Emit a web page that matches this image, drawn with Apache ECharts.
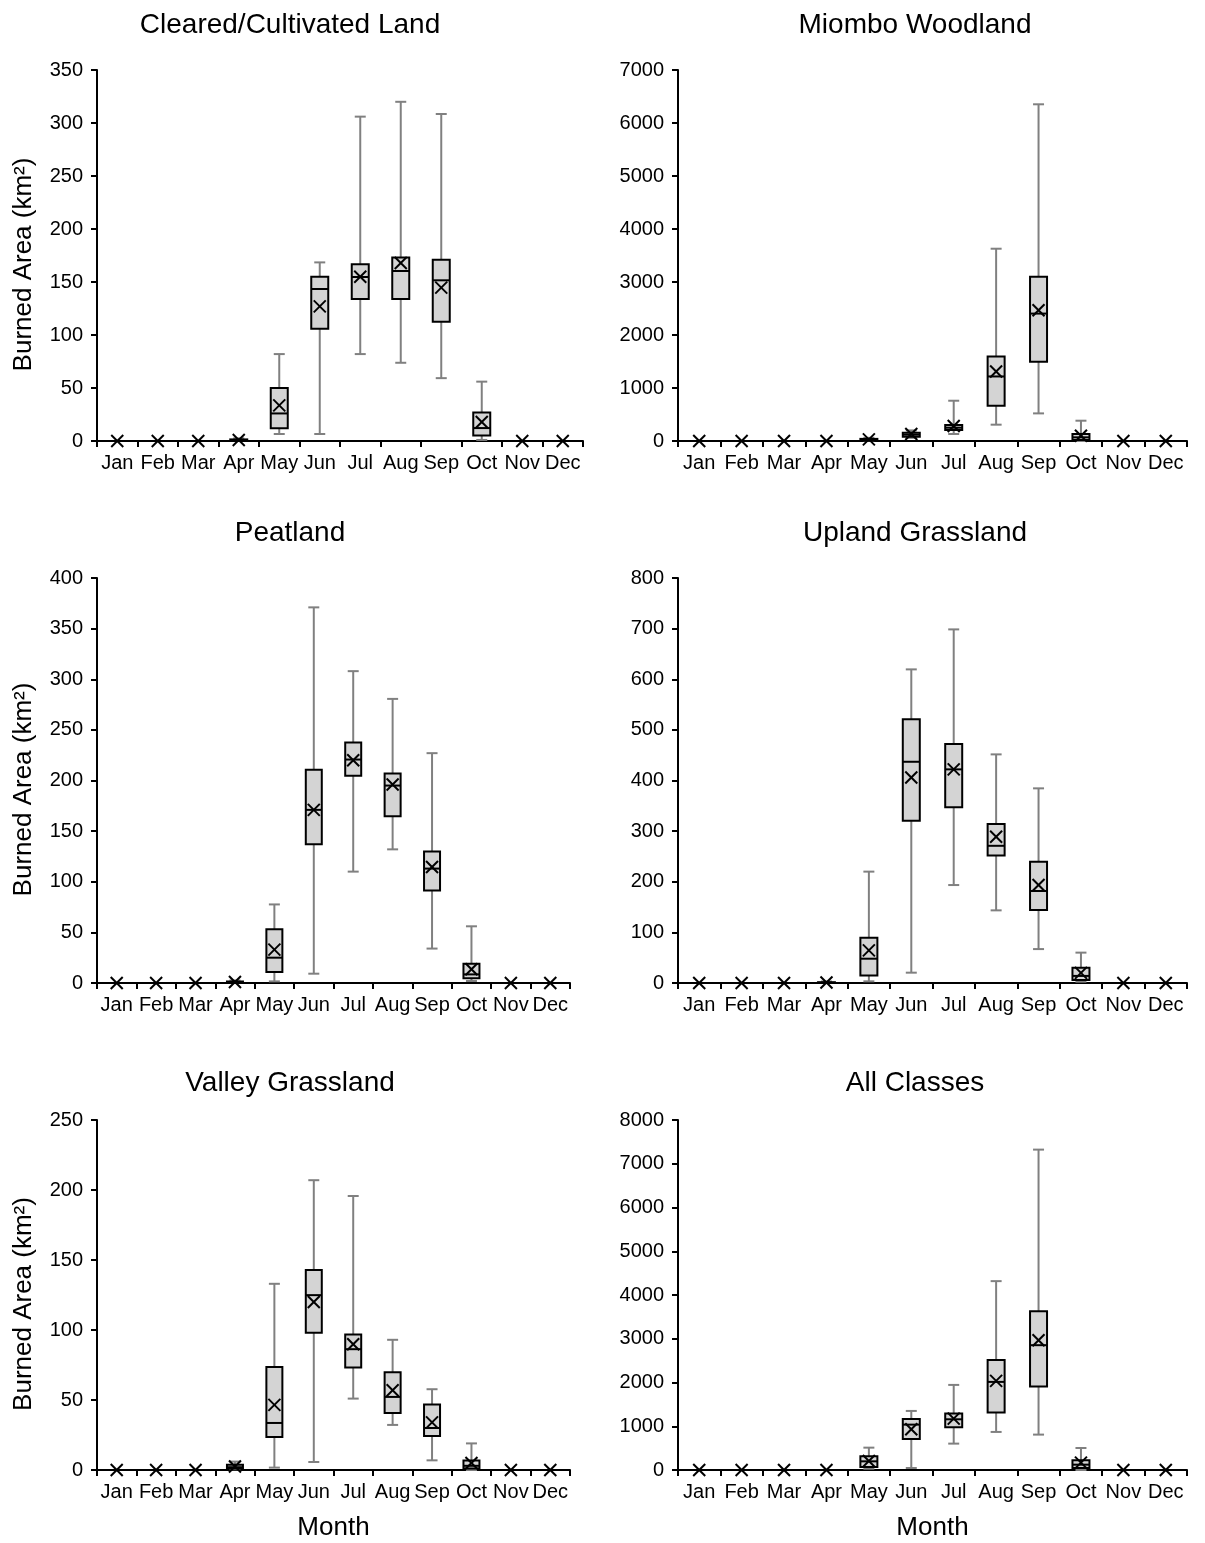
<!DOCTYPE html>
<html>
<head>
<meta charset="utf-8">
<script src="https://cdn.jsdelivr.net/npm/echarts@6/dist/echarts.min.js"></script>
<style>
html,body{margin:0;padding:0;background:#fff;}
#chart{width:1205px;height:1543px;}
</style>
</head>
<body>
<div id="chart"></div>
<script>
// Month categories
const months = ['Jan','Feb','Mar','Apr','May','Jun','Jul','Aug','Sep','Oct','Nov','Dec'];

// Each row: [min, q1, median, q3, max, mean]  (km²)
const clearedLand = [
  [0,0,0,0,0,0],[0,0,0,0,0,0],[0,0,0,0,0,0],
  [0,0,0.5,1.5,2.5,1],
  [6.6,12,26,50,82,33.6],
  [6.6,105.8,143.4,155,168.5,127],
  [82,134,154.7,166.7,306,155],
  [73.8,134,160.4,173,320,168],
  [59.3,112.4,151.6,171,308.5,144.7],
  [1,5.3,12.2,27,56,17.9],
  [0,0,0,0,0,0],[0,0,0,0,0,0]
];
const miomboWoodland = [
  [0,0,0,0,0,0],[0,0,0,0,0,0],[0,0,0,0,0,0],[0,0,0,0,0,0],
  [0,5,15,40,60,30],
  [60,82,119,157,200,132],
  [132,207,251,301,760,282],
  [308,666,1218,1595,3628,1312],
  [521,1494,2404,3101,6353,2467],
  [0,19,69,132,383,100],
  [0,0,0,0,0,0],[0,0,0,0,0,0]
];
const peatland = [
  [0,0,0,0,0,0],[0,0,0,0,0,0],[0,0,0,0,0,0],
  [0,0,0.5,1.5,2.5,1],
  [1.6,10.9,25,53,77.6,33],
  [9.2,137,171,210.5,371,171],
  [110,204.6,220.7,237.5,308,220],
  [132,164.8,195,207,280.6,196],
  [34,91.4,113,130,227,114.5],
  [2,4.6,8.5,19,56,13.5],
  [0,0,0,0,0,0],[0,0,0,0,0,0]
];
const uplandGrassland = [
  [0,0,0,0,0,0],[0,0,0,0,0,0],[0,0,0,0,0,0],
  [0,0,0.5,1.5,3,1],
  [3.3,15,48,89.5,220,64.5],
  [20.4,320.6,437,521,619.5,406],
  [193.5,347,422,472,698.5,422],
  [143.5,252,271,314,451.6,289],
  [67,144,181.7,239.6,384.5,193.5],
  [2.6,6,14,30,60,20],
  [0,0,0,0,0,0],[0,0,0,0,0,0]
];
const valleyGrassland = [
  [0,0,0,0,0,0],[0,0,0,0,0,0],[0,0,0,0,0,0],
  [0.5,1,2,3.8,6,2.5],
  [1.7,23.6,33.6,73.6,133,46.5],
  [5.7,98,124.9,142.8,207,120],
  [51,73.2,86.3,96.8,195.7,89.8],
  [32.2,40.8,52.2,69.8,93,57],
  [6.9,24.3,30,46.7,57.7,34],
  [0,1,3,6.7,19,5],
  [0,0,0,0,0,0],[0,0,0,0,0,0]
];
const allClasses = [
  [0,0,0,0,0,0],[0,0,0,0,0,0],[0,0,0,0,0,0],[0,0,0,0,0,0],
  [30,69,198,313,511,206],
  [46,709,1037,1167,1350,930],
  [603,976,1159,1289,1945,1175],
  [870,1312,2014,2517,4317,2037],
  [809,1907,2853,3631,7323,2967],
  [0,46,122,221,503,168],
  [0,0,0,0,0,0],[0,0,0,0,0,0]
];

// Panel titles and y-axis ranges
const panelTitles = ['Cleared/Cultivated Land','Miombo Woodland','Peatland','Upland Grassland','Valley Grassland','All Classes'];
const yMax = [350, 7000, 400, 800, 250, 8000];
const yStep = [50, 1000, 50, 100, 50, 1000];
const panelData = [clearedLand, miomboWoodland, peatland, uplandGrassland, valleyGrassland, allClasses];

const FONT = '"Liberation Sans", Arial, sans-serif';

const layout = [
  {left: 97,  top: 70,   width: 486, height: 371, tx: 285, ty: 6},
  {left: 678, top: 70,   width: 509, height: 371, tx: 910, ty: 6},
  {left: 97,  top: 578,  width: 473, height: 405, tx: 285, ty: 514},
  {left: 678, top: 578,  width: 509, height: 405, tx: 910, ty: 514},
  {left: 97,  top: 1120, width: 473, height: 350, tx: 285, ty: 1064},
  {left: 678, top: 1120, width: 509, height: 350, tx: 910, ty: 1064}
];

function renderBox(params, api) {
  const x = api.value(0);
  const pMin = api.coord([x, api.value(1)]);
  const pQ1 = api.coord([x, api.value(2)]);
  const pMed = api.coord([x, api.value(3)]);
  const pQ3 = api.coord([x, api.value(4)]);
  const pMax = api.coord([x, api.value(5)]);
  const pMean = api.coord([x, api.value(6)]);
  const band = api.size([1, 0])[0];
  const bw = Math.round(band * 0.41);
  const cw = Math.round(band * 0.27);
  const cx = pMin[0];
  const gray = '#808080';
  const children = [];
  const seg = (x1, y1, x2, y2, color) => ({
    type: 'line',
    shape: {x1, y1, x2, y2},
    style: {stroke: color, lineWidth: 2}
  });
  children.push(seg(cx, pMin[1], cx, pQ1[1], gray));
  children.push(seg(cx, pQ3[1], cx, pMax[1], gray));
  children.push(seg(cx - cw / 2, pMin[1], cx + cw / 2, pMin[1], gray));
  children.push(seg(cx - cw / 2, pMax[1], cx + cw / 2, pMax[1], gray));
  children.push({
    type: 'rect',
    shape: {x: cx - bw / 2, y: pQ3[1], width: bw, height: pQ1[1] - pQ3[1]},
    style: {fill: '#d4d4d4', stroke: '#000', lineWidth: 2}
  });
  children.push(seg(cx - bw / 2, pMed[1], cx + bw / 2, pMed[1], '#000'));
  const s = 6;
  children.push(seg(cx - s, pMean[1] - s, cx + s, pMean[1] + s, '#000'));
  children.push(seg(cx - s, pMean[1] + s, cx + s, pMean[1] - s, '#000'));
  return {type: 'group', children};
}

const option = {
  animation: false,
  backgroundColor: '#fff',
  title: [],
  grid: [],
  xAxis: [],
  yAxis: [],
  series: []
};

for (let i = 0; i < 6; i++) {
  const L = layout[i];
  const isLeft = i % 2 === 0;
  const isBottom = i >= 4;
  option.title.push({
    text: panelTitles[i],
    left: L.tx, top: L.ty, textAlign: 'center',
    textStyle: {fontFamily: FONT, fontSize: 28, fontWeight: 'normal', color: '#000'}
  });
  option.grid.push({left: L.left, top: L.top, width: L.width, height: L.height, containLabel: false});
  option.xAxis.push({
    type: 'category', gridIndex: i, data: months, boundaryGap: true,
    name: isBottom ? 'Month' : '', nameLocation: 'middle', nameGap: 45,
    nameTextStyle: {fontFamily: FONT, fontSize: 26, color: '#000'},
    axisLine: {lineStyle: {color: '#000', width: 2}},
    axisTick: {show: true, length: 6, lineStyle: {color: '#000', width: 2}},
    axisLabel: {interval: 0, fontFamily: FONT, fontSize: 20, color: '#000', margin: 12},
    splitLine: {show: false}
  });
  option.yAxis.push({
    type: 'value', gridIndex: i, min: 0, max: yMax[i], interval: yStep[i],
    name: isLeft ? 'Burned Area (km²)' : '', nameLocation: 'middle', nameGap: 60,
    nameTextStyle: {fontFamily: FONT, fontSize: 26, color: '#000', padding: [0, 18, 0, 0]},
    axisLine: {show: true, lineStyle: {color: '#000', width: 2}},
    axisTick: {show: true, length: 6, lineStyle: {color: '#000', width: 2}},
    axisLabel: {fontFamily: FONT, fontSize: 20, color: '#000', margin: 14, formatter: v => String(v)},
    splitLine: {show: false}
  });
  option.series.push({
    type: 'custom', xAxisIndex: i, yAxisIndex: i,
    renderItem: renderBox,
    encode: {x: 0, y: [1, 2, 3, 4, 5, 6]},
    clip: false,
    data: panelData[i].map((r, k) => [k].concat(r))
  });
}

const chart = echarts.init(document.getElementById('chart'), null, {renderer: 'canvas'});
chart.setOption(option);
</script>
</body>
</html>
